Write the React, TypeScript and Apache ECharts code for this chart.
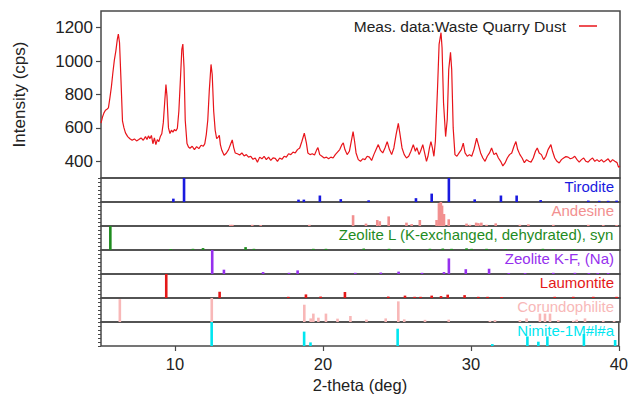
import React, { useEffect, useRef } from 'react';
import * as echarts from 'echarts';

// ---------- data ----------
const THETA: number[] = [
  5.0, 5.1, 5.2, 5.3, 5.4, 5.5, 5.6, 5.7, 5.8, 5.9, 6.0, 6.1, 6.17, 6.25, 6.35, 6.45, 6.55, 6.65, 6.8, 6.95,
  7.1, 7.25, 7.4, 7.55, 7.7, 7.85, 8.0, 8.1, 8.2, 8.3, 8.4, 8.5, 8.6, 8.7, 8.8, 8.9, 9.0, 9.1, 9.2, 9.3,
  9.38, 9.45, 9.55, 9.65, 9.75, 9.85, 9.95, 10.05, 10.15, 10.25, 10.35, 10.45, 10.52, 10.6, 10.68, 10.8, 10.9, 11.0, 11.15, 11.3,
  11.45, 11.6, 11.75, 11.9, 12.0, 12.1, 12.2, 12.3, 12.42, 12.5, 12.6, 12.7, 12.8, 12.9, 12.98, 13.05, 13.15, 13.3, 13.45, 13.6,
  13.75, 13.85, 13.95, 14.05, 14.2, 14.35, 14.5, 14.65, 14.8, 14.95, 15.1, 15.25, 15.4, 15.55, 15.7, 15.85, 16.0, 16.15, 16.3, 16.45,
  16.6, 16.75, 16.9, 17.05, 17.2, 17.35, 17.5, 17.65, 17.8, 17.95, 18.1, 18.25, 18.4, 18.55, 18.71, 18.85, 18.95, 19.1, 19.25, 19.4,
  19.55, 19.63, 19.75, 19.9, 20.05, 20.2, 20.35, 20.5, 20.65, 20.8, 20.95, 21.1, 21.25, 21.34, 21.45, 21.6, 21.75, 21.9, 22.0, 22.1,
  22.2, 22.35, 22.5, 22.65, 22.8, 22.95, 23.1, 23.25, 23.4, 23.55, 23.7, 23.85, 24.0, 24.15, 24.3, 24.45, 24.6, 24.75, 24.9, 25.05,
  25.15, 25.3, 25.45, 25.6, 25.75, 25.9, 26.06, 26.2, 26.3, 26.45, 26.55, 26.7, 26.85, 26.95, 27.05, 27.15, 27.25, 27.35, 27.45, 27.55,
  27.7, 27.8, 27.93, 28.0, 28.1, 28.24, 28.35, 28.45, 28.57, 28.65, 28.75, 28.87, 29.0, 29.15, 29.3, 29.43, 29.55, 29.7, 29.85, 30.0,
  30.15, 30.33, 30.45, 30.6, 30.75, 30.9, 31.05, 31.2, 31.34, 31.5, 31.65, 31.8, 31.95, 32.1, 32.25, 32.4, 32.55, 32.7, 32.85, 32.98,
  33.1, 33.25, 33.4, 33.55, 33.7, 33.85, 34.0, 34.15, 34.3, 34.42, 34.55, 34.7, 34.85, 35.0, 35.15, 35.34, 35.45, 35.6, 35.75, 35.9,
  36.05, 36.2, 36.35, 36.5, 36.65, 36.8, 36.95, 37.1, 37.25, 37.4, 37.55, 37.7, 37.85, 38.0, 38.15, 38.3, 38.45, 38.6, 38.75, 38.9,
  39.05, 39.2, 39.35, 39.5, 39.65, 39.8, 39.9, 40.0,
];

const INTENSITY: number[] = [
  628, 665, 690, 706, 712, 720, 780, 846, 930, 1006, 1060, 1130, 1162, 1110, 880, 640, 600, 570, 548, 535,
  526, 534, 522, 530, 540, 526, 548, 530, 552, 536, 555, 505, 540, 500, 530, 518, 548, 565, 630, 760,
  860, 790, 600, 566, 586, 575, 590, 582, 598, 700, 880, 1070, 1102, 960, 646, 506, 486, 478, 490, 470,
  488, 476, 496, 490, 506, 560, 646, 820, 980, 920, 700, 586, 536, 545, 555, 500, 466, 436, 448, 470,
  505, 528, 482, 450, 445, 438, 450, 432, 440, 425, 430, 412, 420, 395, 425, 415, 430, 410, 425, 405,
  420, 418, 400, 420, 412, 430, 425, 445, 440, 455, 450, 470, 480, 520, 568, 510, 450, 440, 445, 438,
  470, 482, 440, 430, 420, 425, 415, 425, 420, 440, 455, 470, 500, 510, 470, 440, 460, 530, 578, 520,
  450, 410, 400, 415, 410, 430, 425, 405, 440, 470, 500, 465, 450, 480, 518, 470, 440, 480, 560, 627,
  570, 480, 440, 420, 430, 460, 500, 460, 482, 440, 460, 500, 440, 400, 430, 480, 518, 480, 430, 520,
  850, 1100, 1170, 1080, 750, 548, 650, 950, 1052, 950, 600, 440, 430, 450, 470, 509, 450, 430, 440, 430,
  470, 538, 500, 450, 420, 400, 430, 450, 480, 440, 450, 420, 400, 372, 390, 420, 440, 450, 490, 518,
  470, 440, 420, 392, 410, 400, 395, 420, 460, 480, 450, 440, 410, 430, 470, 500, 460, 420, 400, 390,
  410, 420, 428, 425, 415, 420, 430, 410, 395, 410, 420, 400, 395, 410, 420, 400, 410, 398, 410, 395,
  405, 415, 395, 410, 400, 392, 365, 370,
];

const SAMPLE_NAME = 'Meas. data:Waste Quarry Dust';

const PHASE_NAMES: string[] = [
  'Tirodite',
  'Andesine',
  'Zeolite L (K-exchanged, dehydrated), syn',
  'Zeolite K-F, (Na)',
  'Laumontite',
  'Corundophilite',
  'Nimite-1M#l#a',
];

// [2-theta, relative intensity %]
const TIRODITE: [number, number][] = [
  [9.88, 14], [10.6, 100], [18.32, 10], [18.68, 10], [19.76, 27], [21.17, 12], [23.05, 7], [26.24, 16],
  [27.3, 35], [28.46, 100], [30.2, 11], [31.97, 27], [33.03, 27], [34.65, 8], [37.86, 6], [38.6, 5],
  [39.2, 5], [39.77, 6],
];
const ANDESINE: [number, number][] = [
  [13.72, 5], [13.86, 5], [15.2, 5], [15.77, 4], [19.05, 5], [22.0, 45], [22.87, 10], [23.63, 25],
  [23.8, 20], [24.4, 40], [25.6, 14], [25.95, 8], [26.5, 25], [27.63, 25], [27.79, 95], [27.92, 100],
  [28.0, 85], [28.13, 50], [28.45, 28], [29.65, 10], [29.88, 5], [30.3, 14], [30.45, 12], [30.65, 14],
  [31.0, 5], [31.62, 11], [33.25, 5], [33.82, 7], [35.5, 5], [37.86, 5], [38.87, 4], [39.77, 4],
];
const ZEOLITE_L: [number, number][] = [
  [5.63, 100], [9.7, 4], [11.2, 5], [11.88, 8], [14.75, 12], [15.31, 5], [19.32, 5], [20.17, 5],
  [22.72, 6], [24.42, 5], [25.7, 4], [27.18, 5], [28.05, 6], [28.64, 5], [29.65, 7], [29.99, 5],
  [31.0, 5], [32.3, 4], [33.4, 4], [34.8, 5], [35.5, 4], [36.9, 4],
];
const ZEOLITE_KF: [number, number][] = [
  [12.5, 100], [13.29, 18], [15.93, 8], [17.68, 5], [18.26, 15], [22.15, 5], [23.87, 6], [25.07, 10],
  [26.65, 5], [28.13, 8], [28.46, 65], [29.6, 20], [31.17, 22], [32.5, 4], [33.6, 4], [35.5, 5],
  [36.96, 5], [37.9, 4], [38.5, 4], [39.2, 4],
];
const LAUMONTITE: [number, number][] = [
  [9.4, 100], [13.0, 26], [17.63, 5], [18.82, 15], [19.81, 6], [21.45, 25], [24.37, 6], [25.5, 10],
  [26.15, 5], [26.55, 5], [27.3, 10], [27.93, 8], [28.38, 14], [29.52, 12], [30.44, 5], [31.07, 5],
  [32.02, 4], [35.6, 5], [36.85, 5], [38.2, 5], [39.77, 5],
];
const CORUNDOPHILITE: [number, number][] = [
  [6.27, 95], [12.47, 100], [18.71, 72], [19.14, 15], [19.32, 35], [19.66, 18], [20.17, 35], [20.95, 14],
  [21.82, 25], [22.9, 10], [24.2, 15], [25.05, 86], [25.45, 11], [26.85, 9], [28.45, 10], [31.23, 5],
  [31.57, 8], [33.25, 8], [33.7, 15], [34.6, 35], [34.94, 35], [35.28, 35], [35.84, 8], [36.85, 5],
  [37.08, 10], [37.64, 15], [38.87, 5], [39.6, 4],
];
const NIMITE: [number, number][] = [
  [12.48, 100], [18.73, 60], [19.16, 15], [25.05, 72], [31.45, 8], [33.82, 40], [34.56, 18],
  [35.17, 40], [37.64, 50], [39.75, 25],
];

const PHASE_DATA = [TIRODITE, ANDESINE, ZEOLITE_L, ZEOLITE_KF, LAUMONTITE, CORUNDOPHILITE, NIMITE];

const X_TICKS = [10, 20, 30, 40];
const Y_TICKS = [400, 600, 800, 1000, 1200];

// ---------- style ----------
const PHASE_COLORS = ['#1a1adf', '#f29090', '#1f8c1f', '#9630ee', '#e41818', '#f8b8b8', '#00e6f0'];
const LINE_COLOR = '#e8141a';
const FRAME = '#484848';
const FONT = '"Liberation Sans", Arial, Helvetica, sans-serif';
const LEFT = 101;
const RIGHT = 11;
const MAIN_TOP = 11;
const MAIN_H = 167;
const PANEL_H = 24;

export default function App() {
  const ref = useRef<HTMLDivElement>(null);

  useEffect(() => {
    const chart = echarts.init(ref.current!, null, { renderer: 'svg' });
    const n = PHASE_NAMES.length;

    const grids: any[] = [
      { left: LEFT, right: RIGHT, top: MAIN_TOP, height: MAIN_H, show: true, borderColor: FRAME, borderWidth: 1.5 },
    ];
    const xAxes: any[] = [];
    const yAxes: any[] = [];
    const series: any[] = [];
    const graphics: any[] = [];

    const hiddenX = (gi: number) => ({
      type: 'value', gridIndex: gi, min: 5, max: 40,
      axisLine: { show: false }, axisTick: { show: false }, axisLabel: { show: false }, splitLine: { show: false },
    });

    xAxes.push(hiddenX(0));
    yAxes.push({
      type: 'value', gridIndex: 0, min: 300, max: 1300,
      name: 'Intensity (cps)', nameLocation: 'middle', nameGap: 73,
      nameTextStyle: { fontSize: 17, color: '#222', fontFamily: FONT },
      axisLine: { show: false },
      axisTick: { show: true, customValues: Y_TICKS, length: 5, lineStyle: { color: FRAME, width: 1.2 } },
      axisLabel: {
        show: true, customValues: Y_TICKS, fontSize: 17, color: '#222', fontFamily: FONT, margin: 8,
        formatter: (v: number) => String(v),
      },
      splitLine: { show: false },
    });

    series.push({
      type: 'line', name: SAMPLE_NAME, xAxisIndex: 0, yAxisIndex: 0,
      data: THETA.map((t, i) => [t, INTENSITY[i]]),
      symbol: 'none', lineStyle: { color: LINE_COLOR, width: 1.2 }, itemStyle: { color: LINE_COLOR },
    });

    for (let i = 0; i < n; i++) {
      const gi = i + 1;
      const top = MAIN_TOP + MAIN_H + i * PANEL_H;
      grids.push({ left: LEFT, right: RIGHT, top, height: PANEL_H, show: true, borderColor: FRAME, borderWidth: 1.5 });
      if (i === n - 1) {
        xAxes.push({
          type: 'value', gridIndex: gi, min: 5, max: 40,
          name: '2-theta (deg)', nameLocation: 'middle', nameGap: 30,
          nameTextStyle: { fontSize: 16.5, color: '#222', fontFamily: FONT },
          axisLine: { show: false },
          axisTick: { show: true, customValues: X_TICKS, length: 5, lineStyle: { color: FRAME, width: 1.2 } },
          axisLabel: {
            show: true, customValues: X_TICKS, fontSize: 16.5, color: '#222', fontFamily: FONT, margin: 9,
            formatter: (v: number) => String(v),
          },
          splitLine: { show: false },
        });
      } else {
        xAxes.push(hiddenX(gi));
      }
      yAxes.push({
        type: 'value', gridIndex: gi, min: 0, max: 100, interval: 100 / 6,
        axisLine: { show: false },
        axisTick: { show: true, length: 3, lineStyle: { color: FRAME, width: 1 } },
        axisLabel: { show: false }, splitLine: { show: false },
      });
      const color = PHASE_COLORS[i];
      series.push({
        type: 'custom', name: PHASE_NAMES[i], xAxisIndex: gi, yAxisIndex: gi,
        data: PHASE_DATA[i],
        renderItem: (params: any, api: any) => {
          const p0 = api.coord([api.value(0), 0]);
          const p1 = api.coord([api.value(0), api.value(1)]);
          return {
            type: 'rect',
            shape: { x: p0[0] - 1.3, y: p1[1], width: 2.6, height: p0[1] - p1[1] },
            style: { fill: color },
          };
        },
      });
      graphics.push({
        type: 'text', right: 17, top: top + 1, z: 100,
        style: { text: PHASE_NAMES[i], fill: color, font: `15px ${FONT}` },
      });
    }

    chart.setOption({
      animation: false,
      backgroundColor: '#fff',
      grid: grids,
      xAxis: xAxes,
      yAxis: yAxes,
      series,
      graphic: graphics,
      legend: {
        data: [{ name: SAMPLE_NAME, icon: 'rect' }], right: 34, top: 18, padding: 0,
        align: 'right', itemWidth: 18, itemHeight: 1.5,
        textStyle: { fontSize: 15.5, color: '#222', fontFamily: FONT, padding: [0, 8, 0, 0] },
      },
    });

    return () => chart.dispose();
  }, []);

  return (
    <div
      ref={ref}
      style={{ position: 'absolute', left: 0, top: 0, width: 631, height: 399, background: '#fff' }}
    />
  );
}
